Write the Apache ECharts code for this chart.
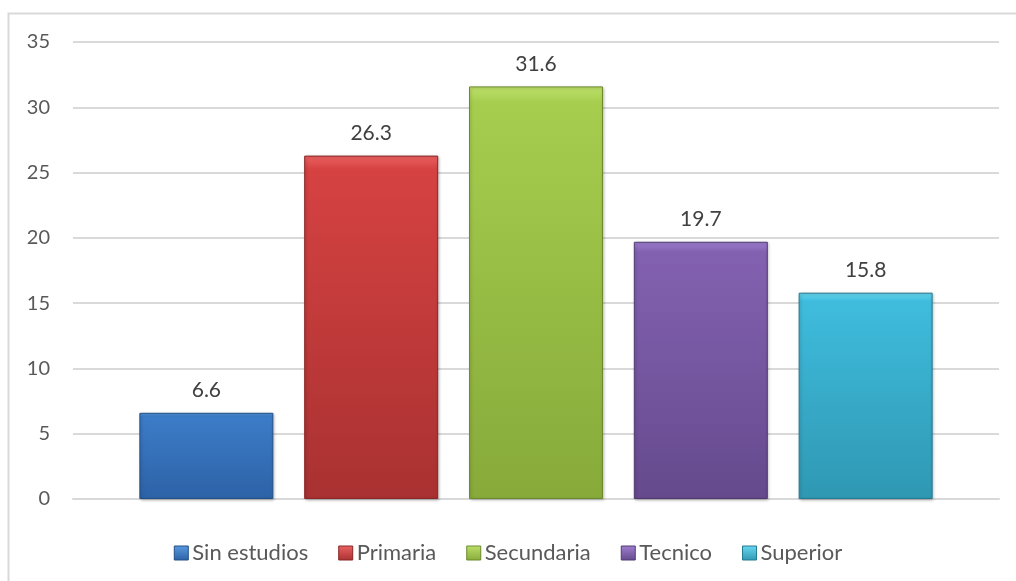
<!DOCTYPE html>
<html>
<head>
<meta charset="utf-8">
<script src="https://cdn.jsdelivr.net/npm/echarts@6/dist/echarts.min.js"></script>
<style>
  html, body { margin: 0; padding: 0; background: #fff; }
  #chart { width: 1016px; height: 581px; }
</style>
</head>
<body>
<div id="chart"></div>
<script>
// datos
const niveles = ['Sin estudios', 'Primaria', 'Secundaria', 'Tecnico', 'Superior'];
const porcentajes = [6.6, 26.3, 31.6, 19.7, 15.8];
const yTicks = { min: 0, max: 35, interval: 5 };

// colores: [claro, base, oscuro, borde]
const colores = [
    ['#5a9ae0', '#3c7cc8', '#2d62a6', '#234f88'],
    ['#ec6262', '#d64242', '#a93131', '#8a2626'],
    ['#bde06a', '#a6cd4e', '#87aa3a', '#6d8a2d'],
    ['#a07fd0', '#8361b1', '#654a8d', '#513a72'],
    ['#6ad8f2', '#3fbcdd', '#2f98b3', '#237a91']
];

const chartDom = document.getElementById('chart');
const myChart = echarts.init(chartDom);

const series = niveles.map((nombre, i) => ({
    name: nombre,
    type: 'bar',
    data: [porcentajes[i]],
    barWidth: 134,
    barGap: '23%',
    itemStyle: {
        color: new echarts.graphic.LinearGradient(0, 0, 0, 1, [
            { offset: 0, color: colores[i][0] },
            { offset: 0.04, color: colores[i][1] },
            { offset: 1, color: colores[i][2] }
        ]),
        borderColor: colores[i][3],
        borderWidth: 1,
        shadowColor: 'rgba(0,0,0,0.25)',
        shadowBlur: 3,
        shadowOffsetX: 1,
        shadowOffsetY: 1
    },
    label: {
        show: true,
        position: 'top',
        distance: 12,
        fontFamily: 'Lato',
        fontSize: 21,
        color: '#404040',
        formatter: p => p.value.toFixed(1)
    }
}));

const option = {
    animation: false,
    graphic: [{
        type: 'rect',
        shape: { x: 8.5, y: 13.5, width: 1100, height: 700 },
        style: { fill: 'none', stroke: '#d9d9d9', lineWidth: 2 },
        silent: true
    }],
    grid: { left: 73, right: 17, top: 42, bottom: 82 },
    legend: {
        top: 537,
        left: 'center',
        icon: 'rect',
        itemWidth: 14,
        itemHeight: 14,
        itemGap: 30,
        textStyle: { fontFamily: 'Lato', fontSize: 22, color: '#595959', padding: [0, 0, 0, -1] },
        data: niveles.map((n, i) => ({
            name: n,
            itemStyle: {
                color: new echarts.graphic.LinearGradient(0, 0, 0, 1, [
                    { offset: 0, color: colores[i][0] },
                    { offset: 1, color: colores[i][2] }
                ]),
                borderColor: colores[i][3],
                borderWidth: 1
            }
        }))
    },
    xAxis: {
        type: 'category',
        data: [''],
        axisLine: { show: true, lineStyle: { color: '#d9d9d9', width: 2 } },
        axisTick: { show: false },
        axisLabel: { show: false }
    },
    yAxis: {
        type: 'value',
        min: yTicks.min,
        max: yTicks.max,
        interval: yTicks.interval,
        axisLine: { show: false },
        axisTick: { show: false },
        axisLabel: { fontFamily: 'Lato', fontSize: 20, color: '#595959', margin: 23 },
        splitLine: { lineStyle: { color: '#d9d9d9', width: 2 } }
    },
    series: series
};

myChart.setOption(option);

window.addEventListener('resize', function() {
    myChart.resize();
});
</script>
</body>
</html>
